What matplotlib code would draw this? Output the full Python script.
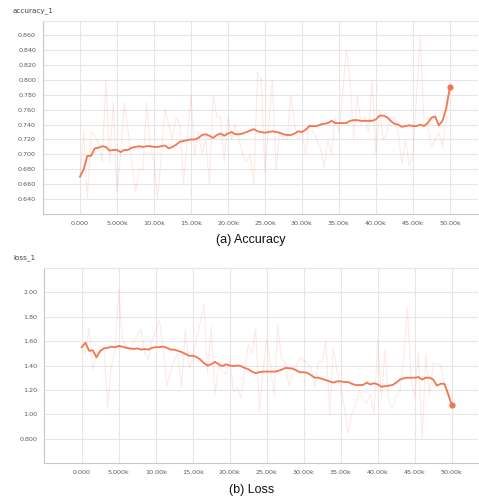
import numpy as np
import matplotlib
matplotlib.use("Agg")
import matplotlib.pyplot as plt

# training steps (every 500)
steps = np.arange(0, 50001, 500)

acc_raw = [0.670, 0.730, 0.640, 0.730, 0.725, 0.715, 0.690, 0.800, 0.690, 0.770,
           0.650, 0.700, 0.770, 0.730, 0.690, 0.650, 0.680, 0.680, 0.770, 0.710,
           0.690, 0.640, 0.700, 0.760, 0.740, 0.720, 0.750, 0.740, 0.660, 0.720,
           0.780, 0.700, 0.730, 0.700, 0.720, 0.660, 0.780, 0.750, 0.750, 0.690,
           0.750, 0.720, 0.740, 0.720, 0.700, 0.690, 0.700, 0.660, 0.810, 0.800,
           0.675, 0.740, 0.800, 0.680, 0.730, 0.720, 0.720, 0.780, 0.740, 0.720,
           0.730, 0.700, 0.740, 0.730, 0.720, 0.710, 0.682, 0.720, 0.700, 0.750,
           0.730, 0.780, 0.840, 0.800, 0.720, 0.780, 0.740, 0.750, 0.730, 0.800,
           0.700, 0.760, 0.720, 0.730, 0.750, 0.750, 0.730, 0.688, 0.720, 0.685,
           0.700, 0.780, 0.860, 0.740, 0.740, 0.710, 0.720, 0.730, 0.710, 0.750,
           0.790]

acc_smooth = [0.670, 0.680, 0.698, 0.698, 0.708, 0.709, 0.711, 0.710, 0.705, 0.706,
              0.706, 0.703, 0.706, 0.706, 0.709, 0.710, 0.711, 0.710, 0.711, 0.711,
              0.710, 0.710, 0.711, 0.712, 0.708, 0.710, 0.713, 0.717, 0.718, 0.719,
              0.720, 0.720, 0.722, 0.726, 0.727, 0.725, 0.722, 0.726, 0.728, 0.725,
              0.728, 0.730, 0.727, 0.727, 0.728, 0.730, 0.732, 0.734, 0.731, 0.730,
              0.729, 0.730, 0.731, 0.730, 0.729, 0.727, 0.726, 0.726, 0.728, 0.731,
              0.730, 0.733, 0.738, 0.738, 0.738, 0.740, 0.741, 0.742, 0.745, 0.742,
              0.742, 0.742, 0.742, 0.745, 0.746, 0.746, 0.745, 0.745, 0.745, 0.745,
              0.747, 0.752, 0.752, 0.750, 0.745, 0.741, 0.740, 0.737, 0.738, 0.739,
              0.738, 0.738, 0.740, 0.738, 0.742, 0.749, 0.751, 0.739, 0.745, 0.762,
              0.790]

loss_raw = [1.55, 1.50, 1.71, 1.36, 1.50, 1.56, 1.55, 1.05, 1.40, 1.50,
            2.02, 1.62, 1.56, 1.52, 1.60, 1.65, 1.70, 1.50, 1.45, 1.60,
            1.68, 1.77, 1.55, 1.23, 1.35, 1.45, 1.50, 1.22, 1.70, 1.38,
            1.45, 1.62, 1.75, 1.91, 1.33, 1.72, 1.16, 1.40, 1.35, 1.33,
            1.45, 1.18, 1.22, 1.13, 1.35, 1.57, 1.50, 1.70, 1.02, 1.35,
            1.62, 1.40, 1.16, 1.73, 1.45, 1.43, 1.23, 1.33, 1.40, 1.47,
            1.44, 1.42, 1.38, 1.23, 1.43, 1.43, 1.61, 1.00, 1.55, 1.35,
            1.23, 1.05, 0.845, 1.00, 1.08, 1.19, 1.12, 1.09, 1.16, 1.01,
            1.61, 1.13, 1.53, 1.10, 1.05, 1.15, 1.19, 1.45, 1.88, 1.30,
            1.14, 1.50, 0.80, 1.50, 1.16, 1.42, 1.41, 1.40, 1.25, 1.15,
            1.08]

loss_smooth = [1.550, 1.587, 1.520, 1.525, 1.467, 1.520, 1.540, 1.545, 1.554, 1.550,
               1.560, 1.555, 1.545, 1.540, 1.535, 1.540, 1.530, 1.535, 1.530, 1.545,
               1.550, 1.550, 1.555, 1.545, 1.530, 1.530, 1.520, 1.510, 1.495, 1.480,
               1.480, 1.470, 1.450, 1.420, 1.400, 1.410, 1.430, 1.410, 1.395, 1.410,
               1.400, 1.395, 1.400, 1.395, 1.380, 1.370, 1.350, 1.337, 1.345, 1.350,
               1.350, 1.350, 1.350, 1.355, 1.365, 1.380, 1.378, 1.375, 1.360, 1.345,
               1.345, 1.340, 1.320, 1.300, 1.300, 1.290, 1.280, 1.270, 1.260, 1.270,
               1.270, 1.265, 1.265, 1.250, 1.240, 1.240, 1.240, 1.260, 1.245, 1.255,
               1.245, 1.226, 1.230, 1.235, 1.240, 1.260, 1.285, 1.295, 1.300, 1.300,
               1.300, 1.305, 1.285, 1.300, 1.300, 1.285, 1.235, 1.250, 1.250, 1.170,
               1.076]

xticks = np.arange(0, 50001, 5000)
xticklabels = ["0.000", "5.000k", "10.00k", "15.00k", "20.00k", "25.00k",
               "30.00k", "35.00k", "40.00k", "45.00k", "50.00k"]
acc_yticks = np.round(np.arange(0.64, 0.861, 0.02), 2)
acc_yticklabels = ["%.3f" % v for v in acc_yticks]
loss_yticks = [0.8, 1.0, 1.2, 1.4, 1.6, 1.8, 2.0]
loss_yticklabels = ["0.800", "1.00", "1.20", "1.40", "1.60", "1.80", "2.00"]

ORANGE = "#f4754f"
GRID = "#e6e6e6"
TXT = "#5a5a5a"

fig = plt.figure(figsize=(4.79, 4.98), dpi=100)


def setup(ax, yticks, ylabels, ylim):
    ax.set_xlim(-5000, 53800)
    ax.set_ylim(*ylim)
    ax.set_xticks(xticks)
    ax.set_xticklabels(xticklabels)
    ax.set_yticks(yticks)
    ax.set_yticklabels(ylabels)
    ax.tick_params(length=0, labelsize=4.6, colors=TXT, pad=5)
    ax.grid(True, color=GRID, linewidth=0.8)
    ax.set_axisbelow(True)
    ax.spines["right"].set_visible(False)
    ax.spines["top"].set_color(GRID)
    ax.spines["left"].set_color("#c8c8c8")
    ax.spines["bottom"].set_color("#c8c8c8")
    for s in ["top", "left", "bottom"]:
        ax.spines[s].set_linewidth(0.8)


# (a) accuracy
ax1 = fig.add_axes([43 / 479, 1 - 214 / 498, 435 / 479, 193 / 498])
setup(ax1, acc_yticks, acc_yticklabels, (0.620, 0.879))
ax1.plot(steps, acc_raw, color=ORANGE, alpha=0.15, linewidth=0.8)
ax1.plot(steps, acc_smooth, color=ORANGE, linewidth=1.3)
ax1.plot(steps[-1], acc_smooth[-1], "o", color=ORANGE, markersize=3.5)
fig.text(13 / 479, 1 - 11 / 498, "accuracy_1", fontsize=5.2, color="#444444",
         va="center", ha="left")
fig.text(251 / 479, 1 - 240 / 498, "(a) Accuracy", fontsize=9, color="#111111",
         ha="center", va="center", family="Liberation Sans")

# (b) loss
ax2 = fig.add_axes([44 / 479, 1 - 463 / 498, 434 / 479, 195 / 498])
setup(ax2, loss_yticks, loss_yticklabels, (0.601, 2.199))
ax2.set_xlim(-5100, 53550)
ax2.plot(steps, loss_raw, color=ORANGE, alpha=0.15, linewidth=0.8)
ax2.plot(steps, loss_smooth, color=ORANGE, linewidth=1.3)
ax2.plot(steps[-1], loss_smooth[-1], "o", color=ORANGE, markersize=3.5)
fig.text(13 / 479, 1 - 258 / 498, "loss_1", fontsize=5.2, color="#444444",
         va="center", ha="left")
fig.text(252 / 479, 1 - 490 / 498, "(b) Loss", fontsize=9, color="#111111",
         ha="center", va="center", family="Liberation Sans")

fig.savefig("out.png", dpi=100)
